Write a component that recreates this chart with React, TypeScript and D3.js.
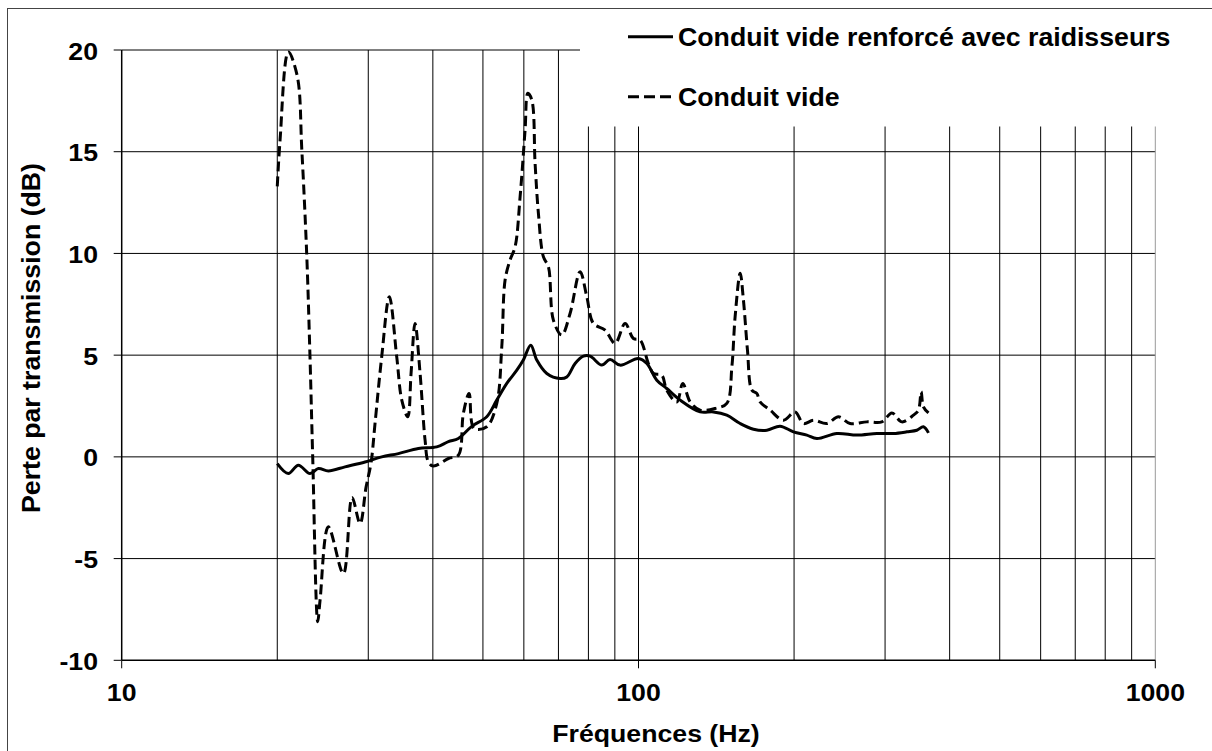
import React from "react";
import * as d3 from "d3";

const dashedF = [20.0, 20.25, 21.01, 21.87, 22.31, 22.8, 23.14, 23.42, 23.95, 24.2, 25.11, 26.85, 27.91, 28.92, 29.7, 30.37, 30.92, 31.85, 32.95, 34.06, 34.83, 35.77, 36.3, 36.95, 37.79, 38.64, 39.21, 40.09, 42.87, 44.81, 45.82, 47.01, 48.06, 50.86, 53.18, 54.38, 55.19, 56.43, 57.71, 59.01, 60.33, 61.07, 62.16, 63.08, 64.02, 65.45, 66.93, 68.44, 71.05, 73.72, 77.09, 79.43, 81.79, 86.18, 90.1, 94.21, 97.75, 100.7, 104.5, 106.9, 110.9, 113.4, 118.6, 121.8, 125.9, 131.6, 140.7, 148.2, 151.6, 153.8, 157.3, 159.6, 162.5, 165.7, 169.4, 171.9, 179.7, 190.8, 200.9, 208.5, 218.0, 231.4, 243.7, 256.7, 276.6, 295.7, 309.2, 323.3, 340.4, 348.1, 352.3, 355.9, 364.0];
const dashedDB = [13.3, 15.57, 19.9, 18.7, 15.1, 10.0, 4.9, 0, -8.1, -7.05, -3.44, -5.74, -2.0, -3.28, -1.5, -0.3, 1.66, 4.92, 7.87, 4.9, 2.79, 1.97, 4.1, 6.56, 4.1, 0.82, -0.25, -0.45, -0.08, 0.08, 2.13, 3.12, 1.4, 1.48, 2.63, 5.41, 8.69, 9.68, 10.33, 12.79, 16.07, 17.87, 17.55, 14.43, 11.97, 9.84, 9.35, 6.72, 5.99, 7.05, 9.1, 7.87, 6.56, 6.23, 5.58, 6.56, 5.82, 5.74, 4.59, 4.1, 4.02, 3.28, 2.7, 3.61, 2.7, 2.3, 2.38, 2.63, 4.43, 6.89, 9.02, 7.71, 5.25, 3.28, 3.12, 2.7, 2.3, 1.8, 2.21, 1.64, 1.8, 1.64, 1.97, 1.64, 1.72, 1.72, 2.16, 1.72, 2.05, 2.3, 3.2, 2.46, 2.16];

const solidF = [20.0, 21.01, 21.97, 23.14, 24.02, 25.11, 27.05, 29.57, 31.85, 34.31, 37.5, 40.7, 42.87, 44.81, 47.58, 50.86, 53.18, 55.61, 58.15, 59.86, 61.88, 63.56, 66.46, 70.52, 72.65, 75.4, 78.24, 80.6, 84.91, 88.1, 92.13, 99.96, 103.8, 108.5, 113.4, 120.4, 131.6, 139.6, 148.2, 157.3, 166.9, 177.2, 187.9, 199.5, 211.7, 221.4, 242.0, 264.6, 289.3, 311.4, 330.6, 345.6, 355.9, 364.0];
const solidDB = [-0.33, -0.82, -0.41, -0.82, -0.57, -0.69, -0.49, -0.25, 0, 0.16, 0.41, 0.49, 0.75, 0.9, 1.5, 1.97, 2.79, 3.61, 4.26, 4.76, 5.49, 4.76, 4.1, 3.85, 3.93, 4.59, 4.95, 4.95, 4.51, 4.79, 4.51, 4.84, 4.59, 3.77, 3.36, 2.79, 2.21, 2.21, 2.05, 1.64, 1.36, 1.31, 1.51, 1.23, 1.07, 0.9, 1.15, 1.07, 1.15, 1.15, 1.23, 1.31, 1.48, 1.18];

const yTicks = [-10, -5, 0, 5, 10, 15, 20];
const xMajorTicks = [10, 100, 1000];
const xMinorGrid = [20, 30, 40, 50, 60, 70, 80, 90, 100, 200, 300, 400, 500, 600, 700, 800, 900, 1000];
const seriesNames = ["Conduit vide renforcé avec raidisseurs", "Conduit vide"];

const W = 1212;
const H = 751;
const FONT = "'Liberation Sans', Arial, Helvetica, sans-serif";

export default function App() {
  const x = d3.scaleLog().domain([10, 1000]).range([121.7, 1155.3]);
  const y = d3.scaleLinear().domain([-10, 20]).range([660.3, 50]);

  const line = d3
    .line<[number, number]>()
    .x((d) => x(d[0]))
    .y((d) => y(d[1]))
    .curve(d3.curveCatmullRom.alpha(0.5));

  const dashedPts: [number, number][] = dashedF.map((f, i) => [f, dashedDB[i]]);
  const solidPts: [number, number][] = solidF.map((f, i) => [f, solidDB[i]]);

  const x0 = x(10);
  const x1 = x(1000);
  const yTop = y(20);
  const yBot = y(-10);

  const stretch = 1.16;

  return (
    <div style={{ position: "absolute", left: 0, top: 0 }}>
      <svg width={W} height={H} style={{ display: "block", background: "#fff" }}>
        <rect x={7.5} y={8.5} width={1210} height={750} fill="#fff" stroke="#444" strokeWidth={1} />

        {/* horizontal gridlines */}
        {yTicks.filter((t) => t !== -10).map((t) => (
          <line key={"h" + t} x1={x0} x2={x1} y1={y(t)} y2={y(t)} stroke="#000" strokeWidth={1} />
        ))}
        {/* vertical gridlines */}
        {xMinorGrid.map((f) => (
          <line key={"v" + f} x1={x(f)} x2={x(f)} y1={yTop} y2={yBot} stroke={f === 1000 ? "#999" : "#000"} strokeWidth={1} />
        ))}

        {/* axes */}
        <line x1={x0} x2={x1} y1={yBot} y2={yBot} stroke="#000" strokeWidth={1.5} />
        <line x1={x0} x2={x0} y1={yTop} y2={yBot} stroke="#000" strokeWidth={1.5} />
        {yTicks.map((t) => (
          <line key={"yt" + t} x1={x0 - 8} x2={x0} y1={y(t)} y2={y(t)} stroke="#000" strokeWidth={1} />
        ))}
        {xMajorTicks.map((t) => (
          <line key={"xt" + t} x1={x(t)} x2={x(t)} y1={yBot} y2={yBot + 8} stroke="#000" strokeWidth={1} />
        ))}

        {/* series */}
        <path d={line(solidPts) || ""} fill="none" stroke="#000" strokeWidth={3} strokeLinejoin="round" />
        <path d={line(dashedPts) || ""} fill="none" stroke="#000" strokeWidth={3} strokeDasharray="10,5" strokeLinejoin="round" />

        {/* legend box covering gridlines */}
        <rect x={580} y={10} width={625} height={116.5} fill="#fff" />
        <line x1={628} x2={673} y1={36.7} y2={36.7} stroke="#000" strokeWidth={3} />
        <text x={678} y={46} fontFamily={FONT} fontWeight="bold" fontSize={26.7} fill="#000">
          {seriesNames[0]}
        </text>
        <line x1={628} x2={673} y1={96.7} y2={96.7} stroke="#000" strokeWidth={3} strokeDasharray="11,5" />
        <text x={678} y={106} fontFamily={FONT} fontWeight="bold" fontSize={26.7} fill="#000">
          {seriesNames[1]}
        </text>

        {/* y tick labels */}
        {yTicks.map((t) => (
          <text
            key={"yl" + t}
            transform={`translate(98,${y(t) + 9.6}) scale(${stretch},1)`}
            textAnchor="end"
            fontFamily={FONT}
            fontWeight="bold"
            fontSize={23}
            fill="#000"
          >
            {t}
          </text>
        ))}
        {/* x tick labels */}
        {xMajorTicks.map((t) => (
          <text
            key={"xl" + t}
            transform={`translate(${x(t)},701) scale(${stretch},1)`}
            textAnchor="middle"
            fontFamily={FONT}
            fontWeight="bold"
            fontSize={23}
            fill="#000"
          >
            {t}
          </text>
        ))}

        {/* axis titles */}
        <text
          transform={`translate(656,742) scale(${stretch},1)`}
          textAnchor="middle"
          fontFamily={FONT}
          fontWeight="bold"
          fontSize={23}
          fill="#000"
        >
          Fréquences (Hz)
        </text>
        <text
          transform={`translate(39.5,338) rotate(-90)`}
          textAnchor="middle"
          fontFamily={FONT}
          fontWeight="bold"
          fontSize={26.7}
          fill="#000"
        >
          Perte par transmission (dB)
        </text>
      </svg>
    </div>
  );
}
